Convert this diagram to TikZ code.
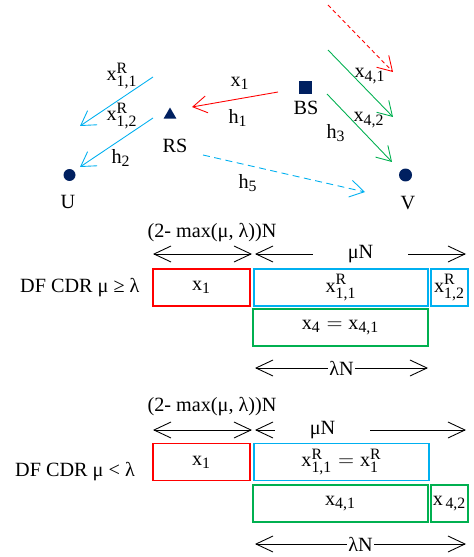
\documentclass[tikz,border=0pt]{standalone}
\usepackage{amsmath}
\usepackage{fontspec}
\setmainfont{Liberation Serif}
\usetikzlibrary{arrows.meta,shapes.geometric}
\DeclareMathSizes{11.5}{11.5}{9}{7}
\definecolor{navy}{RGB}{0,32,96}
\definecolor{skyb}{RGB}{0,176,240}
\definecolor{grn}{RGB}{0,176,80}
\tikzset{
  barb/.style={-{Straight Barb[length=2.8mm,width=3.4mm]}, line width=0.5pt},
  dbarb/.style={{Straight Barb[length=3.4mm,width=3.2mm]}-{Straight Barb[length=3.4mm,width=3.2mm]}, line width=0.5pt},
  slot/.style={draw=#1, line width=0.8pt, minimum height=0.74cm, inner sep=1pt},
  gap/.style={fill=white, inner ysep=1pt}
}

\begin{document}
\begin{tikzpicture}[x=0.02cm, y=-0.02cm, font=\fontsize{11.5}{13}\selectfont]
\useasboundingbox (0,0) rectangle (473,557);

\node[fill=navy, minimum size=0.26cm, inner sep=0pt] (BS) at (305.5,88) {};
\node[fill=navy, regular polygon, regular polygon sides=3, minimum size=0.3cm, inner sep=0pt] (RS) at (170,115) {};
\node[fill=navy, circle, minimum size=0.24cm, inner sep=0pt] (U) at (69.5,175) {};
\node[fill=navy, circle, minimum size=0.26cm, inner sep=0pt] (V) at (405.5,175) {};
\node (BSl) at (306,108) {BS};
\node (RSl) at (175,146) {RS};
\node (Ul) at (68,202) {U};
\node (Vl) at (408,203) {V};

\coordinate (r1s) at (278,92);
\coordinate (r1e) at (192,107);
\coordinate (b1s) at (153,77);
\coordinate (b1e) at (80,126);
\coordinate (b2s) at (153,118);
\coordinate (b2e) at (80,167);
\coordinate (g1s) at (328,50);
\coordinate (g1e) at (393,117);
\coordinate (g2s) at (327,94);
\coordinate (g2e) at (392,162);
\coordinate (r2s) at (328,5);
\coordinate (r2e) at (393,72);
\coordinate (b3s) at (203,155);
\coordinate (b3e) at (365,192);

\draw[barb, red] (r1s) -- (r1e);
\draw[barb, skyb] (b1s) -- (b1e);
\draw[barb, skyb] (b2s) -- (b2e);
\draw[barb, grn] (g1s) -- (g1e);
\draw[barb, grn] (g2s) -- (g2e);
\draw[barb, red, dash pattern=on 0.8mm off 0.6mm] (r2s) -- (r2e);
\draw[barb, skyb, dash pattern=on 1.4mm off 0.9mm] (b3s) -- (b3e);

\node (x1) at (240,83) {$\text{x}_{\text{1}}$};
\node (h1) at (238,118) {$\text{h}_{\text{1}}$};
\node (xr11) at (122,76) {$\text{x}^{\text{R}}_{\text{1,1}}$};
\node (xr12) at (122,116) {$\text{x}^{\text{R}}_{\text{1,2}}$};
\node (h2) at (121,158) {$\text{h}_{\text{2}}$};
\node (x41) at (370,76) {$\text{x}_{\text{4,1}}$};
\node (x42) at (369,120) {$\text{x}_{\text{4,2}}$};
\node (h3) at (336,133) {$\text{h}_{\text{3}}$};
\node (h5) at (248,183) {$\text{h}_{\text{5}}$};

\node (lenA) at (212,233) {(2- max(μ, λ))N};
\coordinate (pAl) at (153,254);
\coordinate (pAm) at (252,254);
\coordinate (pAn) at (255,254);
\coordinate (pAr) at (466,254);
\draw[dbarb] (pAl) -- (pAm);
\draw[dbarb] (pAn) -- (pAr) node[midway, gap, inner xsep=20pt] {μN};
\node[anchor=west] (caseA) at (14,288) {DF CDR μ ≥ λ};
\node[slot=red, minimum width=1.94cm] (sA1) at (201.5,287.5) {$\text{x}_{\text{1}}$};
\node[slot=skyb, minimum width=3.48cm] (sA2) at (341,287.5) {$\text{x}^{\text{R}}_{\text{1,1}}$};
\node[slot=skyb, minimum width=0.74cm] (sA3) at (449.5,287.5) {$\text{x}^{\text{R}}_{\text{1,2}}$};
\node[slot=grn, minimum width=3.5cm] (sA4) at (340.5,327.5) {$\text{x}_{\text{4}} = \text{x}_{\text{4,1}}$};
\coordinate (qAl) at (255,368);
\coordinate (qAr) at (428,368);
\draw[dbarb] (qAl) -- (qAr) node[midway, gap, inner xsep=1pt] {λN};

\node (lenB) at (212,407) {(2- max(μ, λ))N};
\coordinate (pBl) at (153,430);
\coordinate (pBm) at (252,430);
\coordinate (pBn) at (255,430);
\coordinate (pBr) at (466,430);
\draw[dbarb] (pBl) -- (pBm);
\draw[dbarb] (pBn) -- (pBr) node[pos=0.32, gap, inner xsep=20pt] {μN};
\node[anchor=west] (caseB) at (9,472) {DF CDR μ < λ};
\node[slot=red, minimum width=1.94cm] (sB1) at (201.5,462) {$\text{x}_{\text{1}}$};
\node[slot=skyb, minimum width=3.5cm] (sB2) at (341.5,462) {$\text{x}^{\text{R}}_{\text{1,1}} = \text{x}^{\text{R}}_{\text{1}}$};
\node[slot=grn, minimum width=3.5cm] (sB3) at (340.5,503.5) {$\text{x}_{\text{4,1}}$};
\node[slot=grn, minimum width=0.74cm] (sB4) at (449.5,503.5) {$\text{x}_{\,\text{4,2}}$};
\coordinate (qBl) at (255,544);
\coordinate (qBr) at (466,544);
\draw[dbarb] (qBl) -- (qBr) node[midway, gap, inner xsep=1pt] {λN};
\end{tikzpicture}
\end{document}
